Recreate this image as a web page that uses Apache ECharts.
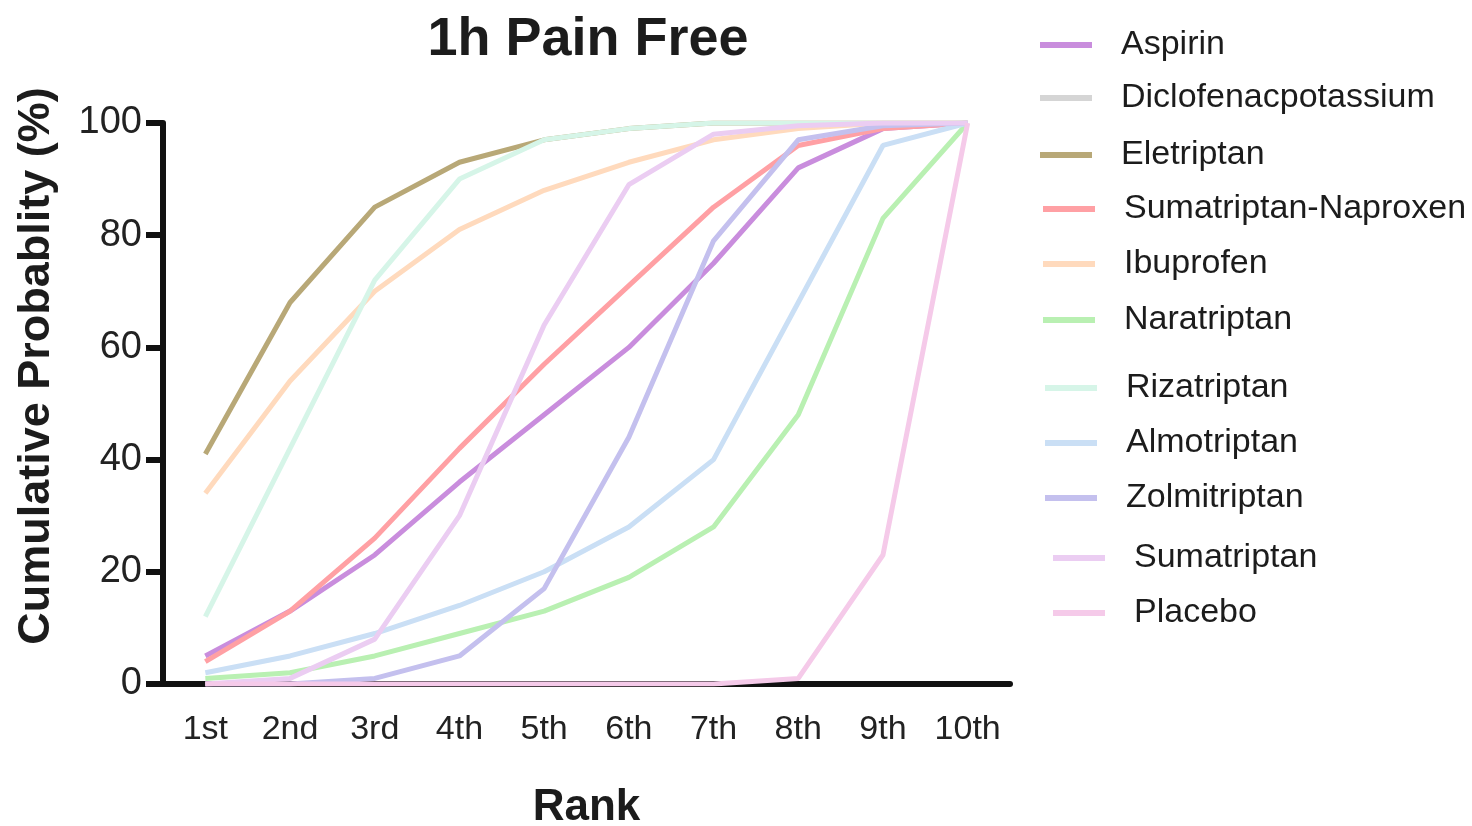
<!DOCTYPE html>
<html>
<head>
<meta charset="utf-8">
<title>1h Pain Free</title>
<script src="https://cdn.jsdelivr.net/npm/echarts@6/dist/echarts.min.js"></script>
<style>
  html, body { margin: 0; padding: 0; background: #fff; }
  #chart { width: 1472px; height: 826px; }
</style>
</head>
<body>
<div id="chart"></div>
<script>
// Rank categories on the x axis
const ranks = ['1st', '2nd', '3rd', '4th', '5th', '6th', '7th', '8th', '9th', '10th'];
const yTicks = [0, 20, 40, 60, 80, 100];

// Cumulative probability (%) of each treatment reaching a given rank
const aspirin             = [5, 13, 23, 36, 48, 60, 75, 92, 99, 100];
const diclofenacPotassium = [];
const eletriptan          = [41, 68, 85, 93, 97, 99, 100, 100, 100, 100];
const sumatriptanNaproxen = [4, 13, 26, 42, 57, 71, 85, 96, 99, 100];
const ibuprofen           = [34, 54, 70, 81, 88, 93, 97, 99, 100, 100];
const naratriptan         = [1, 2, 5, 9, 13, 19, 28, 48, 83, 100];
const rizatriptan         = [12, 42, 72, 90, 97, 99, 100, 100, 100, 100];
const almotriptan         = [2, 5, 9, 14, 20, 28, 40, 68, 96, 100];
const zolmitriptan        = [0, 0, 1, 5, 17, 44, 79, 97, 99.5, 100];
const sumatriptan         = [0, 1, 8, 30, 64, 89, 98, 99.5, 100, 100];
const placebo             = [0, 0, 0, 0, 0, 0, 0, 1, 23, 100];

const treatments = [
  { name: 'Aspirin',              data: aspirin,             color: '#c98ddd' },
  { name: 'Diclofenacpotassium',  data: diclofenacPotassium, color: '#d5d5d5' },
  { name: 'Eletriptan',           data: eletriptan,          color: '#b8a877' },
  { name: 'Sumatriptan-Naproxen', data: sumatriptanNaproxen, color: '#ffa0a4' },
  { name: 'Ibuprofen',            data: ibuprofen,           color: '#ffdabd' },
  { name: 'Naratriptan',          data: naratriptan,         color: '#b9f0b2' },
  { name: 'Rizatriptan',          data: rizatriptan,         color: '#d6f5e8' },
  { name: 'Almotriptan',          data: almotriptan,         color: '#cadff5' },
  { name: 'Zolmitriptan',         data: zolmitriptan,        color: '#c4c0ee' },
  { name: 'Sumatriptan',          data: sumatriptan,         color: '#ebcdf2' },
  { name: 'Placebo',              data: placebo,             color: '#f5cae9' }
];

// Legend rows: icon left edge and row centre, one legend block per entry
const legendRows = [
  { x: 1040, y: 45 },
  { x: 1040, y: 98 },
  { x: 1040, y: 155 },
  { x: 1043, y: 209 },
  { x: 1043, y: 264 },
  { x: 1043, y: 320 },
  { x: 1045, y: 388 },
  { x: 1045, y: 443 },
  { x: 1045, y: 498 },
  { x: 1053, y: 558 },
  { x: 1053, y: 613 }
];

const FONT = '"Liberation Sans", Arial, Helvetica, sans-serif';
const INK = '#1c1c1c';

const chart = echarts.init(document.getElementById('chart'), null, { renderer: 'canvas' });

const legends = treatments.map((t, i) => ({
  data: [t.name],
  orient: 'vertical',
  left: legendRows[i].x,
  top: legendRows[i].y - 20,
  padding: 0,
  icon: 'rect',
  itemWidth: 52,
  itemHeight: 6,
  textStyle: {
    fontFamily: FONT,
    fontSize: 34,
    color: INK,
    lineHeight: 40,
    padding: [0, 0, 0, 24]
  }
}));

chart.setOption({
  animation: false,
  backgroundColor: '#ffffff',
  title: {
    text: '1h Pain Free',
    left: 583,
    top: 8,
    textAlign: 'center',
    textStyle: { fontFamily: FONT, fontSize: 54, fontWeight: 'bold', color: INK }
  },
  legend: legends,
  grid: {
    left: 163, right: 462, top: 123, bottom: 142,
    containLabel: false,
    outerBoundsMode: 'none'
  },
  xAxis: {
    type: 'category',
    data: ranks,
    boundaryGap: true,
    name: 'Rank',
    nameLocation: 'middle',
    nameGap: 102,
    nameTextStyle: { fontFamily: FONT, fontSize: 44, fontWeight: 'bold', color: INK },
    axisLine: { lineStyle: { color: '#111', width: 6 } },
    axisTick: { alignWithLabel: true, interval: 0, length: 16, lineStyle: { color: '#111', width: 6 } },
    axisLabel: { interval: 0, fontFamily: FONT, fontSize: 34, color: '#222', margin: 29 },
    splitLine: { show: false }
  },
  yAxis: {
    type: 'value',
    min: 0,
    max: 100,
    interval: 20,
    axisLine: { show: true, lineStyle: { color: '#111', width: 6 } },
    axisTick: { show: true, length: 17, lineStyle: { color: '#111', width: 6 } },
    axisLabel: {
      fontFamily: FONT, fontSize: 38, color: '#222', margin: 21,
      formatter: v => (yTicks.indexOf(v) >= 0 ? String(v) : '')
    },
    splitLine: { show: false }
  },
  graphic: [{
    type: 'text',
    x: 37,
    y: 366,
    rotation: Math.PI / 2,
    style: {
      text: 'Cumulative Probablity (%)',
      fontFamily: FONT,
      fontSize: 45,
      fontWeight: 'bold',
      fill: INK,
      align: 'center',
      verticalAlign: 'middle'
    }
  }],
  series: treatments.map(t => ({
    name: t.name,
    type: 'line',
    data: t.data,
    showSymbol: false,
    symbol: 'none',
    color: t.color,
    lineStyle: { width: 5, color: t.color },
    emphasis: { disabled: true }
  }))
});
</script>
</body>
</html>
